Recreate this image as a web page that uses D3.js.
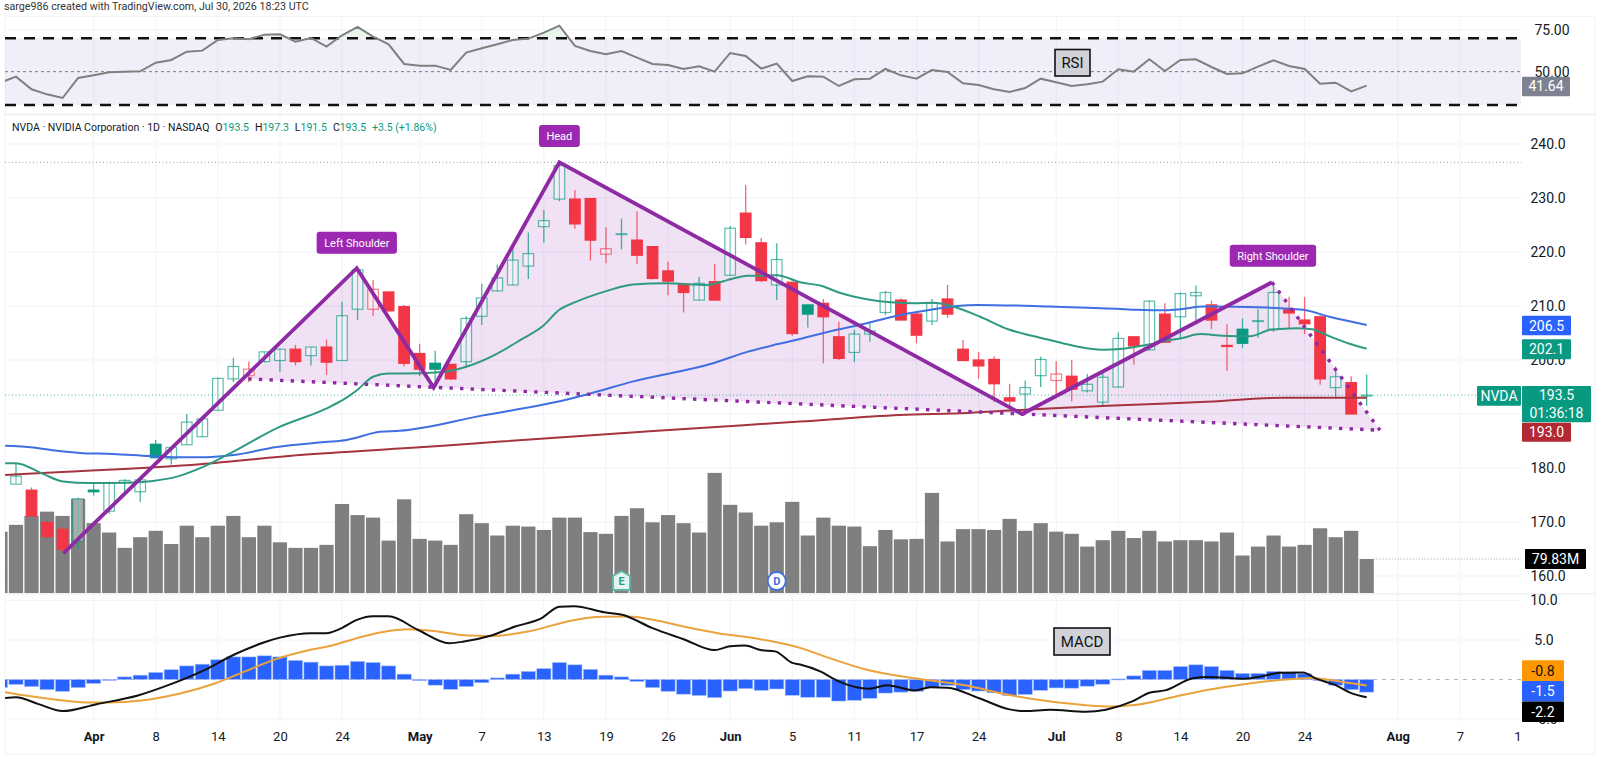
<!DOCTYPE html>
<html><head><meta charset="utf-8">
<script src="https://cdn.jsdelivr.net/npm/d3@7"></script>
<style>html,body{margin:0;padding:0;background:#fff;overflow:hidden}svg{display:block}text{font-family:Roboto,"Liberation Sans",sans-serif}</style>
</head><body><svg id="c" width="1600" height="757"></svg>
<script>
// ---------- candles (bar index 0..87) ----------
const opens=[177,175.9,169.9,168.65,166.5,175.9,172,177.2,175.6,184.4,181.7,184.3,185.8,190.7,196.5,197.1,199.7,199.9,202,200.8,202.4,199.9,209.4,209.4,212.6,209.9,201.2,199.4,199.2,199.7,208.1,212.8,213.9,217.4,224.7,229.8,229.8,229.9,219.6,223.3,222.2,221,216.5,214.1,211.1,214.5,215.7,227.2,221.7,213.9,214.4,210.2,210.5,204.3,201.4,204.8,208.8,211.1,208.5,207.2,211.3,202,200,200.1,193,193.7,197.1,196.2,197,194.3,192.2,195,204.3,201.9,208.5,208,211.9,210.2,202.7,205.7,207.2,205.7,209.4,207.4,208,194.9,195.8,193.5];
const highs=[180.9,176.4,170.2,169,174.5,177.2,177.5,177.9,177.8,185.2,183.8,190,189.2,196.7,200.4,199.7,201.5,202,202.8,202.4,203.8,210.8,216.7,214.8,212.6,210.2,203,201.7,199.2,208.1,214.1,217.7,221.3,223.6,227.8,236.3,231.5,229.9,224.6,226.2,227.5,221,218.2,214.1,215.4,217.8,224.8,232.4,222.6,221.6,214.5,210.2,211.3,207.1,205.6,206.8,212.8,211.4,209,211.3,213.9,203.7,201.5,200.7,195.6,196.2,200.6,199.8,200,197.4,198.1,205.1,204.3,211,210.5,212.5,213.8,211,206.6,207.7,209.4,214.2,211.7,211.7,208.3,198.8,197,197.3];
const lows=[177,171.1,167,164.5,165,174.9,171.5,175.6,173.7,181.9,180.6,184.3,185.7,190.7,195.9,195.9,199.5,197.8,199,199,197.2,199.9,207.4,208.1,209,198.8,197,195,196.3,198.9,206.5,212.7,213.9,215,221.7,229.4,224.3,218.4,217.9,220.5,217.8,214.9,212,208.8,211,211,215.6,221.4,214.5,211.1,204.5,206,199.4,200,199.6,203.4,208.3,207.4,203.1,206.5,207.8,199.9,196.5,192.2,191.4,189.8,195,193.5,192.3,194,191.5,194.9,199.1,201.7,203.3,204,207.4,205.7,198,202.2,204.1,205.2,205.9,204.8,195.4,192.8,190,191.5];
const closes=[178.5,171.1,167.3,164.95,174.3,175.6,177.2,177.7,177.8,181.9,183.8,188.5,189.1,196.6,198.8,198.3,201.5,202,199.7,202.4,199.6,208.2,216.7,213.1,209.1,199.4,198.3,198.3,196.5,207.7,211.5,215.2,218.5,219.7,225.8,236,225.2,222.2,220.6,223.4,219.4,215.1,214.6,212.5,214.2,211.1,224.4,222.7,214.7,218.6,204.9,208.5,208,200.3,204.8,205.4,212.5,207.4,204.6,210.5,208.5,199.9,198.9,195.6,192.4,194.9,200.1,197.4,194.6,195.5,196.8,204,202.6,210.9,203.3,212.3,212.5,207.4,202.5,203.1,207.3,212.5,208.7,206.7,196.5,196.9,190,193.5];
const tones=["G","R","R","R","G","G","G","G","G","G","G","G","G","G","G","R","G","G","R","G","R","G","G","R","R","R","R","G","R","G","G","G","G","G","G","G","R","R","R","G","R","R","R","R","G","R","G","R","R","G","R","G","R","R","G","G","G","R","R","G","R","R","R","R","R","G","G","R","R","G","G","G","R","G","R","G","G","R","R","G","G","G","R","R","R","G","R","G"];
// ---------- volume in millions, from the partly hidden bar at index -1 ----------
const volumes=[144,160,181,191,181,221,164,142,106,131,146,115,158,131,158,181,131,158,119,106,106,113,209,183,177,123,220,127,123,113,185,164,135,158,156,148,177,177,143,139,181,199,166,183,164,142,282,207,189,158,166,214,135,177,158,156,110,148,126,127,235,121,150,150,148,174,146,164,144,139,109,124,146,129,146,121,124,124,121,142,88,109,135,109,113,152,131,146,79.83];
// ---------- moving averages: index and price read at the curve's bends ----------
const ema20Idx=[-0.7,0,1.74,3.03,4.77,7.54,8.82,10.37,12.05,13.98,16.81,19.9,21.06,21.96,23,24,24.7,27.5,29.05,31,32.66,33.9,35,36.1,38.07,39.74,41.9,44.5,46.2,47.1,47.9,49,50.5,51.9,53.1,54.9,57.8,59.07,60.35,62.1,63.9,64.86,66.6,68.34,69.95,71.3,73.04,74.3,75,76.3,77.75,79.5,80.8,82.5,83.5,84.6,85.9,87];
const ema20=[180.9,180.9,178.9,177.5,177.2,177.3,177.6,178.4,180.2,183,187.4,190.9,192.6,194.4,196.9,197.5,197.5,197.8,198.8,201.2,204,206.2,209.3,210.8,212.8,214,214.2,213.9,215.1,215.6,215.6,215.7,214.4,213.7,212.4,211.2,210.5,210.6,209.9,208,205.7,204.9,203.7,202.5,201.9,202.1,202.9,203.7,204,204.8,204.5,204.4,205.6,205.9,205.7,204.4,203,202.1];
const ema50Idx=[-0.7,1.1,2.64,4.1,6.25,8.63,10.37,12.3,14,16.8,19.9,21.3,23.45,24.7,30,35.5,37,39.7,44.9,47.1,49,50.5,52.6,54.8,56.9,59.1,60.6,61.9,66.6,70.9,72.2,74.1,75,76.5,80.6,82.9,84.6,87];
const ema50=[184.1,183.8,183.2,182.8,182.6,182.2,182,182,182.4,183.9,184.8,185.2,186.7,186.9,189.7,192.7,193.8,196,199.4,201.5,202.9,203.9,205.4,206.8,208.3,209.4,210,210.2,209.9,209.5,209.3,209.2,209.4,209.9,209.7,209.3,208,206.5];
const ema200Idx=[-0.7,3.3,11.85,18.3,24.7,27.5,31.2,40.8,50.5,56.9,61.3,65.5,72,76.3,81.6,87];
const ema200=[178.7,179.3,180.7,182.4,183.6,184.1,184.9,186.8,188.6,189.8,190.2,190.9,191.7,192.2,193,193];
// ---------- RSI per bar, from index -1 ----------
const rsi=[43.4,47,39.4,36.4,34.2,46.2,47.8,49.6,50,50.2,55.4,57,62,62.6,69,70,69.4,72.2,72.4,68,70.2,65,71.8,76.8,71,66.4,54.6,53.6,53.6,51,61.4,64,66.4,69,69.8,73.4,77.6,65.4,62.4,60.4,62.4,58.4,54.6,54,51.6,53.2,50,61.2,59.4,51.8,54.8,44.4,47.2,47,41.4,45.4,45.8,51.6,47.8,45.8,51,49.8,43,42,39.4,37.8,40.2,45.8,43.6,41.4,42.4,44,51.4,50,57.4,50.4,57,57.4,52.8,48.6,49,53,56.8,53.4,51.6,42.8,43.4,38.2,41.64];
// ---------- MACD ----------
const macdHist=[-1,-0.63,-0.9,-1.29,-1.5,-1.03,-0.5,-0.03,0.33,0.55,0.9,1.24,1.72,1.94,2.5,2.86,2.86,3,2.86,2.42,2.2,1.72,1.81,2.3,2.16,1.72,0.68,-0.15,-0.72,-1.24,-0.9,-0.41,0.2,0.68,1.03,1.38,2.16,1.86,1.29,0.55,0.33,-0.24,-1.03,-1.5,-1.86,-2.03,-2.3,-1.46,-1.16,-1.38,-1.2,-2,-2.25,-2.25,-2.73,-2.64,-2.38,-1.72,-1.6,-1.5,-1.03,-0.76,-1.29,-1.46,-1.68,-2.03,-1.9,-1.38,-1.07,-1.1,-0.85,-0.6,0.07,0.46,1.16,1.16,1.64,1.86,1.64,1.16,0.77,0.77,1.03,0.94,0.72,-0.1,-0.72,-1.29,-1.6];
const macdIdx=[-0.7,0,1.45,3,5.2,7.85,9.8,12.1,14.1,16.05,17,19,20,20.8,22,22.95,24,25.9,27.9,28.85,30.5,32.15,33.8,35,35.95,37.9,39.05,41,43,45,46,46.95,47.95,48.9,50,50.5,51.8,52.95,54.95,56.1,57.9,58.9,60,62,64,65,66.6,68.9,70.2,71.9,73,74,75.8,76.8,79.1,80.4,81.4,82.9,83.7,85,86,87];
const macdLine=[-2.34,-2.25,-3.12,-4,-3.12,-2.03,-0.72,1.16,3.2,4.74,5.3,5.87,5.87,6.35,7.58,8,8,6.27,4.6,4.8,5.5,6.7,7.7,9.2,9.28,8.5,8.2,6.5,5.1,3.73,4.2,4.3,3.73,3.56,2.1,1.9,1.03,-0.2,-1.16,-0.72,-1.38,-0.98,-1.03,-2.34,-3.78,-4,-3.82,-4.08,-3.82,-2.77,-1.68,-1.38,0.15,0.33,0.11,0.46,0.85,0.9,0.15,-0.72,-1.72,-2.25];
const signalIdx=[-0.7,0.6,2.25,4.55,5.87,8.5,10.5,12.8,14.75,16.7,18.7,20.35,22,24,25.25,26.9,28.85,30.5,33.15,35.75,37.75,39.4,41.35,43,45.3,46.95,48.9,50.5,52.5,54.8,57.1,59.05,61.3,63.6,66.3,68.9,70.5,72.2,74.5,76.8,79.1,81.4,83.35,85.35,87];
const signalLine=[-1.6,-2.03,-2.47,-2.9,-2.9,-2.55,-1.81,-0.5,1.03,2.55,3.64,4.3,5.26,6.14,6.35,6.14,5.6,5.5,6.14,7.45,7.93,7.97,7.45,6.7,5.83,5.4,4.74,4,2.64,1.24,0.37,-0.15,-0.8,-1.81,-2.69,-3.25,-3.43,-3.2,-2.25,-1.29,-0.59,-0.07,0.2,-0.28,-0.77];
// ---------- head and shoulders drawing ----------
const patternIdx=[3.05,21.95,26.9,35,64.8,80.9];
const patternPrice=[164.2,217,194.9,236.6,190,214.4];
const patternEnd={i:87.85,p:187};
const necklineStart={i:14.96,p:196.5};
const patternLabels=["Left Shoulder","Head","Right Shoulder"];
const labelIdx=[21.95,35,80.96];
const labelPrice=[221.7,241.5,219.3];
// ---------- axis labels ----------
const priceTicks=[240,230,220,210,200,190,180,170,160];
const rsiTicks=[75,50];
const macdTicks=[10,5,-5];
const timeTickIdx=[5,9,13,17,21,26,30,34,38,42,46,50,54,58,62,67,71,75,79,83,89,93,96.7];
const timeTickLabels=["Apr","8","14","20","24","May","7","13","19","26","Jun","5","11","17","24","Jul","8","14","20","24","Aug","7","1"];
const monthLabels=["Apr","May","Jun","Jul","Aug"];
const legendName="NVDA · NVIDIA Corporation · 1D · NASDAQ";
const legendOHLC=[["O","193.5"],["H","197.3"],["L","191.5"],["C","193.5"]];
const legendChange="+3.5 (+1.86%)";
const credit="sarge986 created with TradingView.com, Jul 30, 2026 18:23 UTC";

const svg=d3.select("#c");
const L=5,R=1521;
const x=d3.scaleLinear().domain([0,87]).range([16,1366.7]);
const y=d3.scaleLinear().domain([240,160]).range([144,576]);
const yVol=d3.scaleLinear().domain([0,79.83]).range([593,559]);
const yRsi=d3.scaleLinear().domain([70,30]).range([38.3,105]);
const yMacd=d3.scaleLinear().domain([5,-5]).range([640,719]);
const GRN="#089981",RED="#f23645",PUR="#8e2aa3",GRID="#f0f3fa";

const defs=svg.append("defs");
defs.append("clipPath").attr("id","pane").append("rect").attr("x",L).attr("y",0).attr("width",R-L).attr("height",757);
defs.append("clipPath").attr("id","over70").append("rect").attr("x",L).attr("y",0).attr("width",R-L).attr("height",yRsi(70));

// frame + grid
svg.append("rect").attr("x",L).attr("y",16.5).attr("width",1590).attr("height",737.5).attr("fill","none").attr("stroke",GRID);
const grid=svg.append("g").attr("stroke",GRID);
timeTickIdx.slice(0,-1).forEach(t=>grid.append("line").attr("x1",x(t)).attr("x2",x(t)).attr("y1",17).attr("y2",721));
priceTicks.forEach(p=>grid.append("line").attr("x1",L).attr("x2",R).attr("y1",y(p)).attr("y2",y(p)));
[75].forEach(v=>grid.append("line").attr("x1",L).attr("x2",R).attr("y1",yRsi(v)).attr("y2",yRsi(v)));
macdTicks.forEach(v=>grid.append("line").attr("x1",L).attr("x2",R).attr("y1",yMacd(v)).attr("y2",yMacd(v)));
[114.3,594].forEach(v=>svg.append("line").attr("x1",L).attr("x2",1595).attr("y1",v).attr("y2",v).attr("stroke","#e6e9f0"));

const chart=svg.append("g").attr("clip-path","url(#pane)");

// RSI
chart.append("rect").attr("x",L).attr("width",R-L).attr("y",yRsi(70)).attr("height",yRsi(30)-yRsi(70)).attr("fill","#7e57c2").attr("fill-opacity",.1);
const rsiX=(d,i)=>x(i-1);
chart.append("path").datum(rsi).attr("clip-path","url(#over70)").attr("fill","#4caf50").attr("fill-opacity",.12)
 .attr("d",d3.area().x(rsiX).y0(yRsi(70)).y1(d=>yRsi(d)));
chart.append("line").attr("x1",L).attr("x2",R).attr("y1",yRsi(50)).attr("y2",yRsi(50)).attr("stroke","#787b86").attr("stroke-dasharray","3 3");
[70,30].forEach(v=>chart.append("line").attr("x1",L).attr("x2",R).attr("y1",yRsi(v)).attr("y2",yRsi(v)).attr("stroke","#111").attr("stroke-width",2.4).attr("stroke-dasharray","11 8"));
chart.append("path").datum(rsi).attr("fill","none").attr("stroke","#7f7f7f").attr("stroke-width",2)
 .attr("d",d3.line().x(rsiX).y(d=>yRsi(d)));

// pattern fill
const pts=patternIdx.map((v,i)=>[x(v),y(patternPrice[i])]);
const pEnd=[x(patternEnd.i),y(patternEnd.p)],nStart=[x(necklineStart.i),y(necklineStart.p)];
chart.append("path").attr("fill","#9c27b0").attr("fill-opacity",.14)
 .attr("d",d3.line()([nStart,...pts.slice(1),pEnd]));

// price reference lines
chart.append("line").attr("x1",L).attr("x2",R).attr("y1",y(236.6)).attr("y2",y(236.6)).attr("stroke","#9a9ea8").attr("stroke-dasharray","1 2.5");
chart.append("line").attr("x1",L).attr("x2",1477).attr("y1",y(193.5)).attr("y2",y(193.5)).attr("stroke",GRN).attr("stroke-opacity",.75).attr("stroke-dasharray","1 2.5");

// volume
chart.append("g").selectAll("rect").data(volumes).join("rect")
 .attr("x",(d,i)=>x(i-1)-7.1).attr("width",14.2)
 .attr("y",d=>yVol(d)).attr("height",d=>593-yVol(d)).attr("fill","#7f7f7f");
chart.append("line").attr("x1",x(87)+7).attr("x2",R).attr("y1",yVol(79.83)).attr("y2",yVol(79.83)).attr("stroke","#9a9ea8").attr("stroke-dasharray","1 2");

// candles
const tone=i=>tones[i]==="G"?GRN:RED;
const candles=chart.append("g").selectAll("g").data(opens).join("g");
candles.append("line").attr("x1",(d,i)=>x(i)).attr("x2",(d,i)=>x(i))
 .attr("y1",(d,i)=>y(highs[i])).attr("y2",(d,i)=>y(lows[i]))
 .attr("stroke",(d,i)=>tone(i)).attr("stroke-opacity",.75).attr("stroke-width",1.3);
candles.append("rect").attr("x",(d,i)=>x(i)-5.3).attr("width",10.6)
 .attr("y",(d,i)=>y(Math.max(d,closes[i])))
 .attr("height",(d,i)=>Math.max(1,Math.abs(y(d)-y(closes[i]))))
 .attr("fill",(d,i)=>closes[i]<d?tone(i):"#fff").attr("fill-opacity",(d,i)=>closes[i]<d?1:.35)
 .attr("stroke",(d,i)=>tone(i)).attr("stroke-opacity",(d,i)=>closes[i]<d?1:.65).attr("stroke-width",1.2);

// moving averages
const maLine=d3.line().curve(d3.curveMonotoneX);
const ma=(idx,val,col,w)=>chart.append("path").attr("fill","none").attr("stroke",col).attr("stroke-width",w)
 .attr("d",maLine(idx.map((v,i)=>[x(v),y(val[i])])));
ma(ema200Idx,ema200,"#a5343f",2);
ma(ema50Idx,ema50,"#3f6fe0",2);
ma(ema20Idx,ema20,"#2f9a82",2);

// pattern lines
chart.append("path").attr("fill","none").attr("stroke",PUR).attr("stroke-width",3.8).attr("stroke-linejoin","miter")
 .attr("d",d3.line()(pts));
chart.append("path").attr("fill","none").attr("stroke",PUR).attr("stroke-width",3.4).attr("stroke-dasharray","3.4 7.2")
 .attr("d",d3.line()([pts[5],pEnd]));
chart.append("path").attr("fill","none").attr("stroke",PUR).attr("stroke-width",3.4).attr("stroke-dasharray","3.4 7.2")
 .attr("d",d3.line()([nStart,pEnd]));

// pattern labels
patternLabels.forEach((t,i)=>{
 const g=svg.append("g");
 const tx=g.append("text").attr("x",x(labelIdx[i])).attr("y",y(labelPrice[i])).attr("text-anchor","middle").attr("dy","0.35em")
  .attr("fill","#fff").attr("font-size",11).text(t);
 const w=tx.node().getComputedTextLength()+15;
 g.insert("rect","text").attr("x",x(labelIdx[i])-w/2).attr("y",y(labelPrice[i])-11).attr("width",w).attr("height",22).attr("rx",3).attr("fill","#9c27b0");
});

// MACD
chart.append("line").attr("x1",L).attr("x2",R).attr("y1",yMacd(0)).attr("y2",yMacd(0)).attr("stroke","#b2b5be").attr("stroke-dasharray","4 5");
chart.append("g").selectAll("rect").data(macdHist).join("rect")
 .attr("x",(d,i)=>x(i-1)-7.1).attr("width",14.2)
 .attr("y",d=>Math.min(yMacd(d),yMacd(0))).attr("height",d=>Math.max(1,Math.abs(yMacd(d)-yMacd(0))))
 .attr("fill","#2962ff").attr("stroke","#a8c2fb").attr("stroke-width",.6);
const mLine=(idx,val,col)=>chart.append("path").attr("fill","none").attr("stroke",col).attr("stroke-width",2)
 .attr("d",d3.line().curve(d3.curveMonotoneX)(idx.map((v,i)=>[x(v),yMacd(val[i])])));
mLine(signalIdx,signalLine,"#eaa33c");
mLine(macdIdx,macdLine,"#111");

// event markers
const ev=svg.append("g");
const eX=x(39),dX=x(49);
ev.append("path").attr("d",d3.line()([[eX-8.5,576],[eX,571],[eX+8.5,576],[eX+8.5,590],[eX-8.5,590]])+"Z").attr("fill","#e3f4f0").attr("stroke","#5fb5a3").attr("stroke-width",1.8);
ev.append("text").attr("x",eX).attr("y",585).attr("text-anchor","middle").attr("font-size",11).attr("font-weight",700).attr("fill","#2f9a82").text("E");
ev.append("circle").attr("cx",dX).attr("cy",581).attr("r",9).attr("fill","#fff").attr("stroke","#3f6fe0").attr("stroke-width",1.8);
ev.append("text").attr("x",dX).attr("y",585).attr("text-anchor","middle").attr("font-size",11).attr("font-weight",700).attr("fill","#3f6fe0").text("D");

// indicator badges
const badge=(t,x0,y0,w,h,fs)=>{svg.append("rect").attr("x",x0).attr("y",y0).attr("width",w).attr("height",h).attr("fill","#cfd0d6").attr("fill-opacity",.95).attr("stroke","#111").attr("stroke-width",1.6);
 svg.append("text").attr("x",x0+w/2).attr("y",y0+h/2).attr("dy","0.36em").attr("text-anchor","middle").attr("font-size",fs).attr("fill","#111").text(t);};
badge("RSI",1055,49.5,35,26.5,15);
badge("MACD",1054,628,56,27,15);

// axes
const styleAxis=(g,col)=>{g.select(".domain").remove();g.selectAll("line").remove();g.selectAll("text").attr("fill",col||"#131722").attr("font-size",14).attr("text-anchor","middle").attr("x",0);};
svg.append("g").attr("transform","translate(1548,0)").call(d3.axisRight(y).tickValues(priceTicks).tickFormat(d3.format(".1f")).tickSize(0)).call(styleAxis);
svg.append("g").attr("transform","translate(1552,0)").call(d3.axisRight(yRsi).tickValues(rsiTicks).tickFormat(d3.format(".2f")).tickSize(0)).call(styleAxis);
svg.append("g").attr("transform","translate(1544,0)").call(d3.axisRight(yMacd).tickValues(macdTicks).tickFormat(d3.format(".1f")).tickSize(0)).call(styleAxis);
const tickMap=new Map(timeTickIdx.map((v,i)=>[v,timeTickLabels[i]]));
svg.append("g").attr("transform","translate(0,732)").call(d3.axisBottom(x).tickValues(timeTickIdx).tickFormat(d=>tickMap.get(d)).tickSize(0))
 .call(g=>{g.select(".domain").remove();g.selectAll("line").remove();g.selectAll("text").attr("y",0).attr("dy","0.71em").attr("font-size",13).attr("fill","#131722")
  .attr("font-weight",function(){return monthLabels.includes(this.textContent)?700:400;});});

// right tags
const tag=(lines,x0,y0,w,h,col,fg)=>{svg.append("rect").attr("x",x0).attr("y",y0).attr("width",w).attr("height",h).attr("fill",col).attr("rx",1);
 lines.forEach((t,i)=>svg.append("text").attr("x",x0+w/2).attr("y",y0+(i+.5)*h/lines.length).attr("dy","0.36em").attr("text-anchor","middle").attr("font-size",14).attr("fill",fg||"#fff").text(t));};
tag(["41.64"],1522,76.7,48,19.5,"#7e8290");
tag(["206.5"],1522,315.7,49,19.6,"#2962ff");
tag(["202.1"],1522,339.3,49,20,GRN);
tag(["NVDA"],1477,386,44,19.7,GRN);
tag(["193.5","01:36:18"],1522,386,69,36.3,GRN);
tag(["193.0"],1522,422.7,49,19,"#b22833");
tag(["79.83M"],1525,549,61,20,"#000");
tag(["-0.8"],1522,660.3,42,20.7,"#ff9800","#111");
tag(["-1.5"],1522,681,42,20.4,"#2962ff");
tag(["-2.2"],1522,701.4,42,20.6,"#000");

// header + legend
svg.append("text").attr("x",4).attr("y",7).attr("font-size",10.7).attr("fill","#333").attr("dominant-baseline","middle").text(credit);
const leg=svg.append("text").attr("x",12).attr("y",128).attr("font-size",10.5).attr("dominant-baseline","middle").attr("fill","#131722");
leg.append("tspan").text(legendName);
legendOHLC.forEach(([k,v],i)=>{leg.append("tspan").attr("dx",i?6:6).text(k);leg.append("tspan").attr("fill",GRN).text(v);});
leg.append("tspan").attr("dx",6).attr("fill",GRN).text(legendChange);
</script></body></html>
